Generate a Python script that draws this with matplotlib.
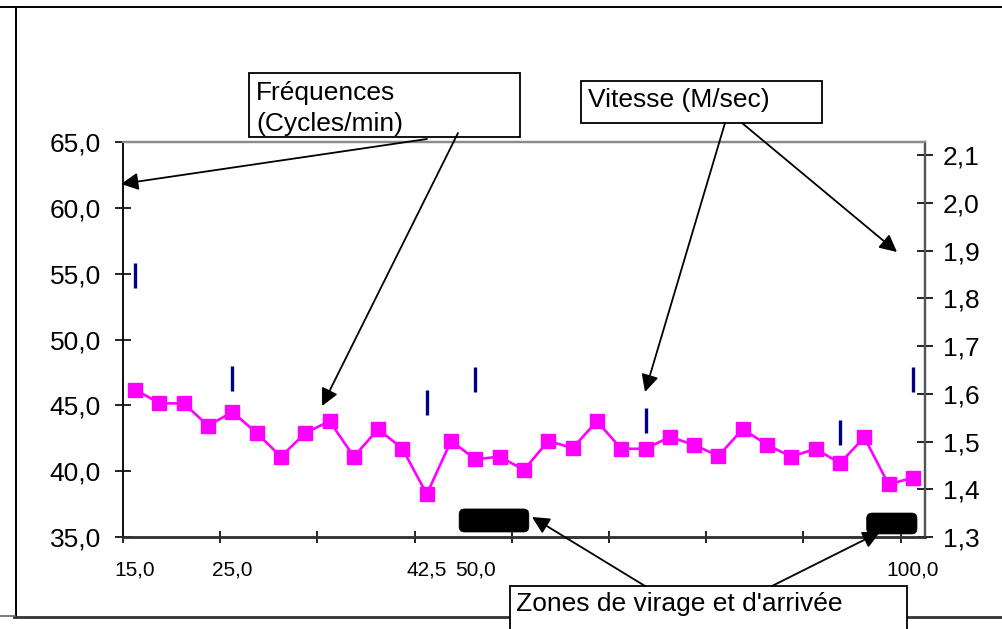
import numpy as np
import matplotlib
matplotlib.use("Agg")
import matplotlib.pyplot as plt
from matplotlib.patches import Rectangle, FancyBboxPatch, FancyArrowPatch
from matplotlib.lines import Line2D

plt.rcParams['font.family'] = ['Liberation Sans', 'DejaVu Sans']

# ---------------- data ----------------
categories = list(range(33))
x_labels = ["15,0", "", "", "", "25,0", "", "", "", "", "", "", "", "42,5", "", "50,0",
            "", "", "", "", "", "", "", "", "", "", "", "", "", "", "", "", "", "100,0"]
freq = [46.2, 45.15, 45.15, 43.45, 44.5, 42.9, 41.1, 42.9, 43.8, 41.1, 43.2, 41.7,
        38.25, 42.3, 40.9, 41.1, 40.1, 42.3, 41.75, 43.8, 41.7, 41.7, 42.6, 42.0,
        41.15, 43.2, 42.0, 41.1, 41.7, 40.6, 42.57, 39.0, 39.5]
speed_idx = [0, 4, 12, 14, 21, 29, 32]
speed_vals = [1.85, 1.634, 1.583, 1.631, 1.546, 1.521, 1.631]
left_ticks = [35, 40, 45, 50, 55, 60, 65]
right_ticks = [1.3, 1.4, 1.5, 1.6, 1.7, 1.8, 1.9, 2.0, 2.1]
# zones (category span, left-axis value span)
zone_x0 = [13.33, 30.1]
zone_x1 = [16.2, 32.17]
zone_y0 = [35.38, 35.23]
zone_y1 = [37.13, 36.82]

W, H = 1003, 629
fig = plt.figure(figsize=(W / 100, H / 100), dpi=100)

def fx(x):
    return x / W

def fy(y):
    return 1 - y / H

L, R, T, B = 123, 925, 142, 537
ax = fig.add_axes([fx(L), fy(B), fx(R) - fx(L), fy(T) - fy(B)])
ax2 = ax.twinx()

ax.set_xlim(-0.5, 32.5)
ax.set_ylim(35, 65)
ax2.set_ylim(1.3, 2.128)

ax.plot(categories, freq, color='#FF00FF', lw=1.9, marker='s', ms=10.5,
        mec='#FF00FF', mfc='#FF00FF', zorder=3)
ax2.plot(speed_idx, speed_vals, ls='none', marker='|', ms=18, mew=2.4,
         color='#000080', zorder=3)

for x0, x1, y0, y1 in zip(zone_x0, zone_x1, zone_y0, zone_y1):
    p = FancyBboxPatch((x0, y0), x1 - x0, y1 - y0,
                       boxstyle="round,pad=0,rounding_size=0.22",
                       mutation_aspect=24.3 / 13.17,
                       fc='black', ec='black', lw=0.5, zorder=4)
    ax.add_patch(p)

# ticks
ax.set_yticks(left_ticks)
ax.set_yticklabels([f"{v:.1f}".replace('.', ',') for v in left_ticks])
ax2.set_yticks(right_ticks)
ax2.set_yticklabels([f"{v:.1f}".replace('.', ',') for v in right_ticks])
ax.set_xticks(np.arange(-0.5, 32, 4))
ax.set_xticklabels([])
ax.set_xticks(categories, minor=True)
ax.set_xticklabels(x_labels, minor=True)

ax.tick_params(axis='y', direction='inout', length=12, width=1.2, pad=10,
               labelsize=19, colors='black')
ax2.tick_params(axis='y', direction='inout', length=12, width=1.2, pad=7,
                labelsize=19, colors='black')
ax.tick_params(axis='x', which='major', direction='inout', length=9, width=1.2)
ax.tick_params(axis='x', which='minor', length=0, pad=17, labelsize=15)

for a in (ax, ax2):
    a.spines['top'].set_color('#8a8a8a')
    a.spines['top'].set_linewidth(1.6)
    a.spines['left'].set_color('#111111')
    a.spines['left'].set_linewidth(1.3)
    a.spines['bottom'].set_color('#333333')
    a.spines['bottom'].set_linewidth(1.8)
    a.spines['right'].set_color('#555555')
    a.spines['right'].set_linewidth(1.6)

# outer frame lines (figure pixels)
def fline(x0, y0, x1, y1, color='black', lw=1.3):
    fig.add_artist(Line2D([fx(x0), fx(x1)], [fy(y0), fy(y1)], color=color, lw=lw,
                          transform=fig.transFigure))

fline(0, 7, W, 7, lw=1.4)
fline(16, 7, 16, 617, lw=1.4)
fline(14, 617, W, 617, color='#333333', lw=2.0)
fline(0, 615.5, 15, 615.5, color='#666666', lw=1.2)

# annotation boxes
def fbox(x0, y0, x1, y1):
    fig.add_artist(Rectangle((fx(x0), fy(y1)), fx(x1) - fx(x0), fy(y0) - fy(y1),
                             transform=fig.transFigure, fc='white', ec='black',
                             lw=1.3, zorder=5))

def farrow(x0, y0, x1, y1):
    fig.add_artist(FancyArrowPatch((fx(x0), fy(y0)), (fx(x1), fy(y1)),
                                   transform=fig.transFigure, arrowstyle='-|>',
                                   mutation_scale=26, lw=1.3, color='black',
                                   shrinkA=0, shrinkB=0, zorder=6))

fbox(249, 73, 520, 137)
fig.text(fx(256), fy(100), "Fréquences", fontsize=19, va='baseline', ha='left', zorder=7)
fig.text(fx(256), fy(131), "(Cycles/min)", fontsize=19, va='baseline', ha='left', zorder=7)

fbox(581, 81, 822, 123)
fig.text(fx(588), fy(107), "Vitesse (M/sec)", fontsize=19, va='baseline', ha='left', zorder=7)

fbox(510, 586, 907, 640)
fig.text(fx(516), fy(611), "Zones de virage et d'arrivée", fontsize=19, va='baseline',
         ha='left', zorder=7)

farrow(427, 139, 121, 184)
farrow(458, 133, 322, 406)
farrow(725, 123, 645, 392)
farrow(742, 123, 897, 252)
farrow(645, 586, 532, 517)
farrow(772, 586, 880, 532)

fig.savefig("out.png", dpi=100)
